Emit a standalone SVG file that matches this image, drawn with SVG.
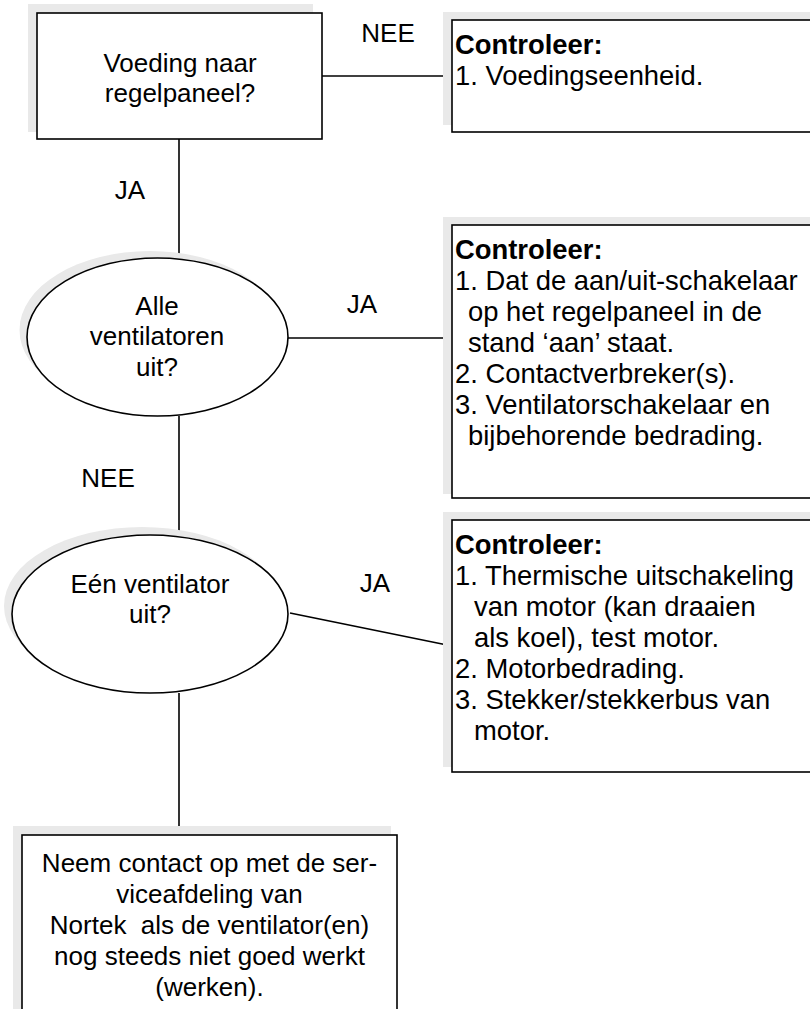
<svg xmlns="http://www.w3.org/2000/svg" width="810" height="1009" viewBox="0 0 810 1009">
<style>
text{font-family:"Liberation Sans",Arial,sans-serif;font-size:26px;fill:#000}
.c{text-anchor:middle}
.b{font-weight:bold}
.r{font-size:27.4px}
.shadow{fill:#e9e9e9;stroke:none}
.node{fill:#fff;stroke:#000;stroke-width:1.6}
.conn line{stroke:#000;stroke-width:1.6}
</style>
<rect x="0" y="0" width="810" height="1009" fill="#fff"/>
<g id="connectors" class="conn">
<line x1="322" y1="76" x2="452" y2="76"/>
<line x1="179" y1="139" x2="179" y2="260"/>
<line x1="288" y1="338" x2="452" y2="338"/>
<line x1="179" y1="416" x2="179" y2="536"/>
<line x1="290" y1="613" x2="452" y2="646"/>
<line x1="179" y1="693" x2="179" y2="835"/>
</g>
<g id="labels">
<text class="c" x="388" y="42">NEE</text>
<text class="c" x="130" y="199">JA</text>
<text class="c" x="362" y="313">JA</text>
<text class="c" x="108" y="487">NEE</text>
<text class="c" x="375" y="592">JA</text>
</g>
<g id="n1">
<rect class="shadow" x="28" y="4" width="285" height="128"/>
<rect class="node" x="37" y="13" width="285" height="126"/>
<text class="c" x="180" y="72">Voeding naar</text>
<text class="c" x="180" y="102">regelpaneel?</text>
</g>
<g id="nA" class="r">
<rect class="shadow" x="443" y="12" width="380" height="113"/>
<rect class="node" x="452" y="20" width="380" height="112"/>
<text class="b r" x="455" y="54">Controleer:</text>
<text class="r" x="455" y="85">1. Voedingseenheid.</text>
</g>
<g id="n2">
<ellipse class="shadow" cx="150" cy="330" rx="130.5" ry="79"/>
<ellipse class="node" cx="157.5" cy="337" rx="130.5" ry="79"/>
<text class="c" x="157" y="315">Alle</text>
<text class="c" x="157" y="345">ventilatoren</text>
<text class="c" x="157" y="376">uit?</text>
</g>
<g id="nB">
<rect class="shadow" x="443" y="217" width="380" height="277"/>
<rect class="node" x="452" y="225" width="380" height="273"/>
<text class="b r" x="455" y="259">Controleer:</text>
<text class="r" x="455" y="290">1. Dat de aan/uit-schakelaar</text>
<text class="r" x="468" y="321">op het regelpaneel in de</text>
<text class="r" x="468" y="352">stand ‘aan’ staat.</text>
<text class="r" x="455" y="383">2. Contactverbreker(s).</text>
<text class="r" x="455" y="414">3. Ventilatorschakelaar en</text>
<text class="r" x="468" y="445">bijbehorende bedrading.</text>
</g>
<g id="n3">
<ellipse class="shadow" cx="142" cy="606" rx="138" ry="79"/>
<ellipse class="node" cx="150" cy="614" rx="138" ry="79"/>
<text class="c" x="150" y="593">Eén ventilator</text>
<text class="c" x="150" y="623">uit?</text>
</g>
<g id="nC">
<rect class="shadow" x="443" y="512" width="380" height="255"/>
<rect class="node" x="452" y="520" width="380" height="252"/>
<text class="b r" x="455" y="554">Controleer:</text>
<text class="r" x="455" y="585">1. Thermische uitschakeling</text>
<text class="r" x="474" y="616">van motor (kan draaien</text>
<text class="r" x="474" y="647">als koel), test motor.</text>
<text class="r" x="455" y="678">2. Motorbedrading.</text>
<text class="r" x="455" y="709">3. Stekker/stekkerbus van</text>
<text class="r" x="474" y="740">motor.</text>
</g>
<g id="nD">
<rect class="shadow" x="13" y="826" width="378" height="200"/>
<rect class="node" x="22" y="835" width="375" height="200"/>
<text class="c" x="209.5" y="872">Neem contact op met de ser-</text>
<text class="c" x="209.5" y="903">viceafdeling van</text>
<text class="c" x="209.5" y="934" xml:space="preserve">Nortek  als de ventilator(en)</text>
<text class="c" x="209.5" y="965">nog steeds niet goed werkt</text>
<text class="c" x="209.5" y="996">(werken).</text>
</g>
</svg>
